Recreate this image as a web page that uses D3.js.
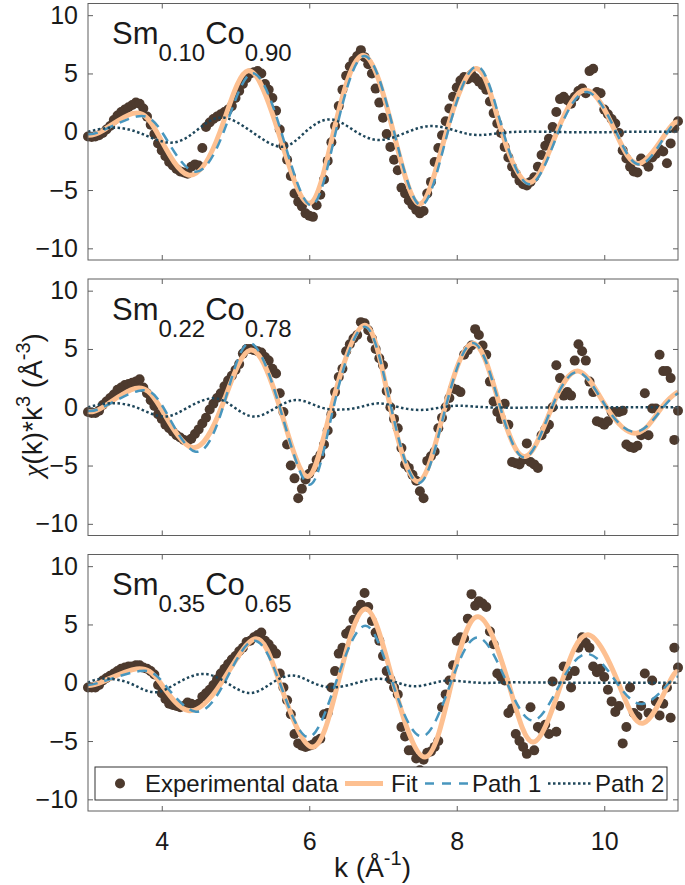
<!DOCTYPE html>
<html><head><meta charset="utf-8">
<script src="https://cdn.jsdelivr.net/npm/d3@7"></script>
<style>body{margin:0;background:#fff} svg{display:block}</style>
</head><body>
<svg id="chart" width="685" height="885"></svg>
<script>
// ---------- DATA ----------
const titleParts = [["Sm","0.10","Co","0.90"],["Sm","0.22","Co","0.78"],["Sm","0.35","Co","0.65"]];
const xTicks = [4,6,8,10];
const yTicks = [-10,-5,0,5,10];
const legendLabels = ["Experimental data","Fit","Path 1","Path 2"];

const kData = [3.00,3.05,3.10,3.15,3.20,3.25,3.30,3.35,3.40,3.45,3.50,3.55,3.60,3.65,3.70,3.75,3.80,3.85,3.90,3.95,
 4.00,4.05,4.10,4.15,4.20,4.25,4.30,4.35,4.40,4.45,4.50,4.55,4.60,4.65,4.70,4.75,4.80,4.85,4.90,4.95,
 5.00,5.05,5.10,5.15,5.20,5.25,5.30,5.35,5.40,5.45,5.50,5.55,5.60,5.65,5.70,5.75,5.80,5.85,5.90,5.95,
 6.00,6.05,6.10,6.15,6.20,6.25,6.30,6.35,6.40,6.45,6.50,6.55,6.60,6.65,6.70,6.75,6.80,6.85,6.90,6.95,
 7.00,7.05,7.10,7.15,7.20,7.25,7.30,7.35,7.40,7.45,7.50,7.55,7.60,7.65,7.70,7.75,7.80,7.85,7.90,7.95,
 8.00,8.05,8.10,8.15,8.20,8.25,8.30,8.35,8.40,8.45,8.50,8.55,8.60,8.65,8.70,8.75,8.80,8.85,8.90,8.95,
 9.00,9.05,9.10,9.15,9.20,9.25,9.30,9.35,9.40,9.45,9.50,9.55,9.60,9.65,9.70,9.75,9.80,9.85,9.90,9.95,
 10.00,10.05,10.10,10.15,10.20,10.25,10.30,10.35,10.40,10.45,10.50,10.55,10.60,10.65,10.70,10.75,10.80,10.85,10.90,10.95,
 11.00];

const exp1 = [-0.4,-0.45,-0.4,-0.3,-0.1,0.2,0.5,1.0,1.4,1.7,1.9,2.1,2.3,2.5,2.4,2.0,1.3,0.6,-0.2,-1.0,
 -1.6,-2.1,-2.6,-2.9,-3.2,-3.4,-3.5,-3.6,-3.0,-2.8,-2.9,-1.4,0.4,0.8,1.1,1.3,1.5,1.7,1.9,2.2,
 2.9,3.5,4.1,4.6,5.0,5.1,5.2,5.0,4.1,3.6,2.9,1.8,0.2,-1.2,-2.4,-3.8,-5.3,-6.0,-6.4,-7.0,
 -7.2,-7.3,-6.3,-5.4,-4.1,-2.5,-0.9,0.5,2.2,3.6,4.8,5.6,6.1,6.5,7.0,6.4,5.8,5.0,3.7,2.5,
 1.2,-0.2,-1.3,-2.4,-3.3,-4.8,-5.3,-5.9,-6.3,-6.7,-7.0,-6.8,-5.3,-4.3,-2.6,-1.4,-0.3,0.9,2.0,3.0,
 3.8,4.4,4.7,4.5,4.9,4.6,4.3,4.0,3.6,2.6,1.6,0.7,-0.1,-1.3,-2.2,-3.0,-3.6,-4.2,-4.5,-4.6,
 -4.3,-3.9,-3.0,-2.0,-1.2,-0.6,0.4,1.7,2.8,3.0,2.7,2.4,3.0,3.5,3.7,3.3,5.2,5.4,3.4,3.3,
 1.9,1.5,1.1,0.7,-0.1,-1.6,-2.3,-3.0,-3.4,-3.5,-2.3,-2.6,-3.0,-2.2,-1.9,-1.5,-1.7,-2.7,-1.0,0.3,
 0.9];

const exp2 = [-0.4,-0.5,-0.5,-0.3,0.2,0.5,0.8,1.1,1.5,1.7,1.9,2.0,2.1,2.2,2.4,1.7,1.2,0.6,0.1,-0.6,
 -1.0,-1.5,-1.8,-2.1,-2.4,-2.6,-2.8,-2.9,-2.7,-2.3,-1.9,-1.4,-0.9,-0.2,0.3,0.8,1.2,1.8,2.3,2.7,
 3.2,3.7,4.6,5.0,5.0,4.9,4.8,4.7,4.3,4.0,3.3,2.9,1.2,-0.4,-3.2,-5.0,-6.1,-7.8,-7.0,-6.2,
 -5.7,-5.2,-4.5,-4.1,-3.2,-2.0,-0.6,1.3,2.6,3.3,4.8,5.4,5.9,6.2,7.3,7.2,6.6,5.9,5.0,4.2,
 3.6,1.4,0.0,-1.0,-1.8,-3.5,-4.9,-5.2,-5.8,-6.3,-7.2,-7.8,-4.6,-4.2,-3.8,-1.8,-0.9,0.0,0.8,1.6,
 1.5,1.3,4.5,4.9,5.3,6.7,6.2,5.3,4.5,2.2,0.5,-0.4,-1.0,0.3,-1.5,-4.7,-4.8,-4.9,-4.5,-3.1,
 -4.7,-4.9,-5.2,-2.4,-1.9,-1.5,0.0,3.6,2.5,1.0,1.3,1.0,4.0,5.4,4.8,4.0,2.2,1.3,-1.2,-1.3,
 -1.5,-1.2,-0.4,-0.4,-0.4,-0.3,-3.2,-3.4,-3.5,-3.3,-2.4,1.2,-2.4,-0.1,-0.1,4.5,3.1,3.1,2.5,-2.8,
 -0.3];

const exp3 = [-0.4,-0.4,-0.4,-0.2,0.2,0.4,0.6,0.8,1.0,1.2,1.3,1.4,1.4,1.5,1.5,1.3,1.2,1.0,0.7,-0.2,
 -0.9,-1.4,-1.8,-1.9,-2.0,-2.1,-2.0,-1.7,-1.8,-1.9,-1.8,-1.2,-0.9,-0.6,-0.2,0.3,0.8,1.2,1.6,2.0,
 2.3,2.7,3.0,3.5,3.6,3.9,4.1,4.3,3.6,3.3,2.9,2.5,0.8,-0.4,-1.5,-2.7,-4.4,-5.2,-5.4,-5.5,
 -5.4,-5.3,-5.0,-4.8,-2.7,-2.6,-0.4,1.0,2.5,3.0,4.2,4.5,5.4,6.2,6.7,7.7,6.5,5.3,4.3,3.6,
 2.3,1.0,0.3,-0.4,-1.0,-3.8,-4.6,-5.8,-5.8,-6.5,-7.5,-6.6,-6.0,-5.9,-5.5,-5.0,-2.1,-1.0,0.2,1.5,
 3.6,3.9,3.8,5.5,7.6,6.6,7.0,6.8,6.5,4.4,3.3,0.8,0.5,0.2,-2.6,-2.2,-4.4,-5.0,-5.5,-6.1,
 -2.1,-5.8,-3.8,-4.0,-3.6,-4.4,0.1,-4.2,-2.0,1.4,0.6,-0.4,1.0,3.0,3.9,3.4,3.0,1.4,0.9,1.2,
 0.5,-0.6,-1.6,-2.5,-2.0,-5.2,-3.8,-0.4,-2.6,-2.9,-2.0,0.8,-2.6,0.2,-1.6,-2.8,-1.8,-0.4,-3.0,3.0,
 1.3];

// Fit curves (key points; drawn with a smooth library curve)
const fitK1 = [3.0,3.2,3.61,3.93,4.36,4.79,5.17,5.58,5.99,6.33,6.73,7.14,7.50,7.86,8.27,8.61,8.99,9.36,9.76,10.15,10.48,10.85,11.0];
const fitV1 = [-0.3,0.1,1.57,0,-3.71,0,5.23,0,-6.14,0,6.57,0,-6.2,0,5.43,0,-4.37,0,3.57,0,-2.71,0,0.86];
const fitK2 = [3.0,3.2,3.64,3.98,4.41,4.81,5.20,5.60,5.97,6.30,6.75,7.10,7.48,7.84,8.23,8.59,8.93,9.29,9.65,10.03,10.44,10.78,11.0];
const fitV2 = [-0.37,0.0,1.62,0,-3.45,0,4.9,0,-5.93,0,7.03,0,-6.36,0,5.47,0,-4.22,0,3.1,0,-2.22,0,1.33];
const fitK3 = [3.0,3.2,3.66,3.98,4.36,4.81,5.26,5.60,6.03,6.39,6.76,7.14,7.57,7.93,8.29,8.70,9.04,9.42,9.78,10.19,10.53,10.88,11.0];
const fitV3 = [-0.24,0.1,1.19,0,-2.38,0,3.75,0,-5.51,0,6.32,0,-6.37,0,5.66,0,-5.08,0,4.12,0,-3.46,0,0.9];

const path1K1 = [3.0,3.2,3.66,4.0,4.43,4.84,5.22,5.62,6.02,6.36,6.75,7.15,7.52,7.88,8.28,8.63,9.0,9.38,9.77,10.16,10.5,10.86,11.0];
const path1V1 = [-0.2,0.1,1.3,0,-3.4,0,5.0,0,-6.3,0,6.5,0,-6.3,0,5.6,0,-4.5,0,3.4,0,-2.8,0,0.7];
const path1K2 = [3.0,3.2,3.68,4.02,4.45,4.83,5.18,5.6,6.0,6.33,6.75,7.11,7.49,7.85,8.23,8.59,8.93,9.29,9.65,10.03,10.44,10.8,11.0];
const path1V2 = [-0.3,0.0,1.4,0,-3.8,0,5.5,0,-6.64,0,6.9,0,-6.5,0,5.5,0,-4.3,0,3.0,0,-2.1,0,1.2];
const path1K3 = [3.0,3.2,3.7,4.02,4.45,4.85,5.24,5.6,5.98,6.36,6.76,7.13,7.53,7.92,8.29,8.68,9.04,9.41,9.78,10.17,10.53,10.88,11.0];
const path1V3 = [-0.2,0.1,1.0,0,-2.46,0,3.6,0,-4.66,0,4.89,0,-4.6,0,3.89,0,-3.23,0,2.47,0,-1.8,0,0.5];

const path2K1 = [3.0,3.34,3.7,4.12,4.47,4.81,5.22,5.63,5.95,6.28,6.61,6.94,7.3,7.64,7.98,8.29,8.7,9.2,9.8,10.4,11.0];
const path2V1 = [0,0.35,-0.1,-0.94,0.1,1.23,0,-1.29,0,1.06,0.1,-0.71,-0.1,0.49,0.1,-0.28,-0.05,0,-0.05,0,0];
const path2K2 = [3.0,3.3,3.65,4.02,4.36,4.70,4.98,5.26,5.56,5.85,6.15,6.42,6.68,6.94,7.22,7.52,7.8,8.05,8.4,9.0,10.0,11.0];
const path2V2 = [0,0.34,0,-0.8,0,0.77,0,-0.8,0,0.62,0,-0.2,0,0.34,0,-0.23,0,0.13,0,-0.03,0,0];
const path2K3 = [3.0,3.2,3.55,3.89,4.22,4.56,4.88,5.2,5.5,5.78,6.05,6.33,6.65,6.94,7.2,7.43,7.7,7.93,8.3,8.7,9.5,11.0];
const path2V3 = [0,0.35,0,-0.81,0,0.76,0,-0.88,0,0.62,0,-0.4,0,0.34,0,-0.3,0,0.19,0,0.03,0,0];

// ---------- STYLE ----------
const dotColor = "#4d3a2e", fitColor = "#fdc091", p1Color = "#4896be", p2Color = "#1e465a";
const axisColor = "#5f5f5f", textColor = "#1a1a1a";
const FONT = "'Liberation Sans', Arial, Helvetica, sans-serif";
const xLeft = 88, xRight = 678;
const panelTop = [3.5, 279, 554.5];
const panelH = 256.5;

const zip = (a, b) => a.map((v, i) => [v, b[i]]);
const panels = [
  {title: titleParts[0], exp: exp1, fit: zip(fitK1, fitV1), p1: zip(path1K1, path1V1), p2: zip(path2K1, path2V1)},
  {title: titleParts[1], exp: exp2, fit: zip(fitK2, fitV2), p1: zip(path1K2, path1V2), p2: zip(path2K2, path2V2)},
  {title: titleParts[2], exp: exp3, fit: zip(fitK3, fitV3), p1: zip(path1K3, path1V3), p2: zip(path2K3, path2V3)}
];

const svg = d3.select("#chart");
svg.append("rect").attr("width", 685).attr("height", 885).attr("fill", "#fff");
const x = d3.scaleLinear().domain([3, 11]).range([xLeft, xRight]);

panels.forEach((p, i) => {
  const top = panelTop[i];
  const y = d3.scaleLinear().domain([-11, 11]).range([top + panelH, top]);
  const g = svg.append("g");
  const line = d3.line().x(d => x(d[0])).y(d => y(d[1])).curve(d3.curveNatural);

  g.append("g").selectAll("circle").data(zip(kData, p.exp)).join("circle")
    .attr("cx", d => x(d[0])).attr("cy", d => y(d[1])).attr("r", 5).attr("fill", dotColor);

  g.append("path").datum(p.fit).attr("d", line).attr("fill", "none")
    .attr("stroke", fitColor).attr("stroke-width", 5);
  g.append("path").datum(p.p1).attr("d", line).attr("fill", "none")
    .attr("stroke", p1Color).attr("stroke-width", 2.5).attr("stroke-dasharray", "10,7");
  g.append("path").datum(p.p2).attr("d", line).attr("fill", "none")
    .attr("stroke", p2Color).attr("stroke-width", 2.5).attr("stroke-dasharray", "2.5,2.5");

  // axes
  const styleAxis = sel => {
    sel.select(".domain").remove();
    sel.selectAll(".tick line").attr("stroke", axisColor);
    sel.selectAll(".tick text").attr("fill", textColor).attr("font-size", 25).attr("font-family", FONT);
  };
  g.append("g").attr("transform", `translate(${xLeft},0)`)
    .call(d3.axisLeft(y).tickValues(yTicks).tickSize(-5).tickPadding(10)).call(styleAxis);
  g.append("g").attr("transform", `translate(${xRight},0)`)
    .call(d3.axisRight(y).tickValues(yTicks).tickSize(-5).tickFormat("")).call(styleAxis);
  g.append("g").attr("transform", `translate(0,${top})`)
    .call(d3.axisTop(x).tickValues(xTicks).tickSize(-5).tickFormat("")).call(styleAxis);
  const bottom = d3.axisBottom(x).tickValues(xTicks).tickSize(-5).tickPadding(21);
  if (i < 2) bottom.tickFormat("");
  g.append("g").attr("transform", `translate(0,${top + panelH})`).call(bottom).call(styleAxis);

  g.append("rect").attr("x", xLeft).attr("y", top).attr("width", xRight - xLeft).attr("height", panelH)
    .attr("fill", "none").attr("stroke", axisColor).attr("stroke-width", 1);

  // title
  const t = g.append("text").attr("x", 112).attr("y", top + 40.5)
    .attr("font-family", FONT).attr("fill", textColor).attr("font-size", 31);
  t.append("tspan").text(p.title[0]);
  t.append("tspan").attr("font-size", 24).attr("dy", 17).text(p.title[1]);
  t.append("tspan").attr("dy", -17).text(p.title[2]);
  t.append("tspan").attr("font-size", 24).attr("dy", 17).text(p.title[3]);
});

// axis labels
const xl = svg.append("text").attr("x", 372.5).attr("y", 877).attr("text-anchor", "middle")
  .attr("font-family", FONT).attr("font-size", 28).attr("fill", textColor);
xl.append("tspan").text("k (Å");
xl.append("tspan").attr("font-size", 20).attr("dy", -12).text("-1");
xl.append("tspan").attr("dy", 12).text(")");

const yl = svg.append("text").attr("transform", "translate(42,405) rotate(-90)").attr("text-anchor", "middle")
  .attr("font-family", FONT).attr("font-size", 28).attr("fill", textColor);
yl.append("tspan").attr("font-family", "'Liberation Serif', 'DejaVu Serif', serif").attr("font-style", "italic").text("χ");
yl.append("tspan").text("(k)*k");
yl.append("tspan").attr("font-size", 20).attr("dy", -12).text("3");
yl.append("tspan").attr("dy", 12).text(" (Å");
yl.append("tspan").attr("font-size", 20).attr("dy", -12).text("-3");
yl.append("tspan").attr("dy", 12).text(")");

// legend
const lg = svg.append("g");
lg.append("rect").attr("x", 95).attr("y", 767).attr("width", 572).attr("height", 33)
  .attr("fill", "#fff").attr("stroke", "#333").attr("stroke-width", 1);
const ly = 783.5;
lg.append("circle").attr("cx", 120).attr("cy", ly).attr("r", 5).attr("fill", dotColor);
lg.append("line").attr("x1", 345).attr("x2", 383).attr("y1", ly).attr("y2", ly).attr("stroke", fitColor).attr("stroke-width", 5);
lg.append("line").attr("x1", 425).attr("x2", 468).attr("y1", ly).attr("y2", ly).attr("stroke", p1Color).attr("stroke-width", 2.5).attr("stroke-dasharray", "9,8");
lg.append("line").attr("x1", 548).attr("x2", 592).attr("y1", ly).attr("y2", ly).attr("stroke", p2Color).attr("stroke-width", 2.5).attr("stroke-dasharray", "2.5,2.5");
const legendX = [145, 391, 472, 595];
legendLabels.forEach((s, j) => {
  lg.append("text").attr("x", legendX[j]).attr("y", 792).attr("font-family", FONT)
    .attr("font-size", 24).attr("fill", textColor).text(s);
});
</script>
</body></html>
